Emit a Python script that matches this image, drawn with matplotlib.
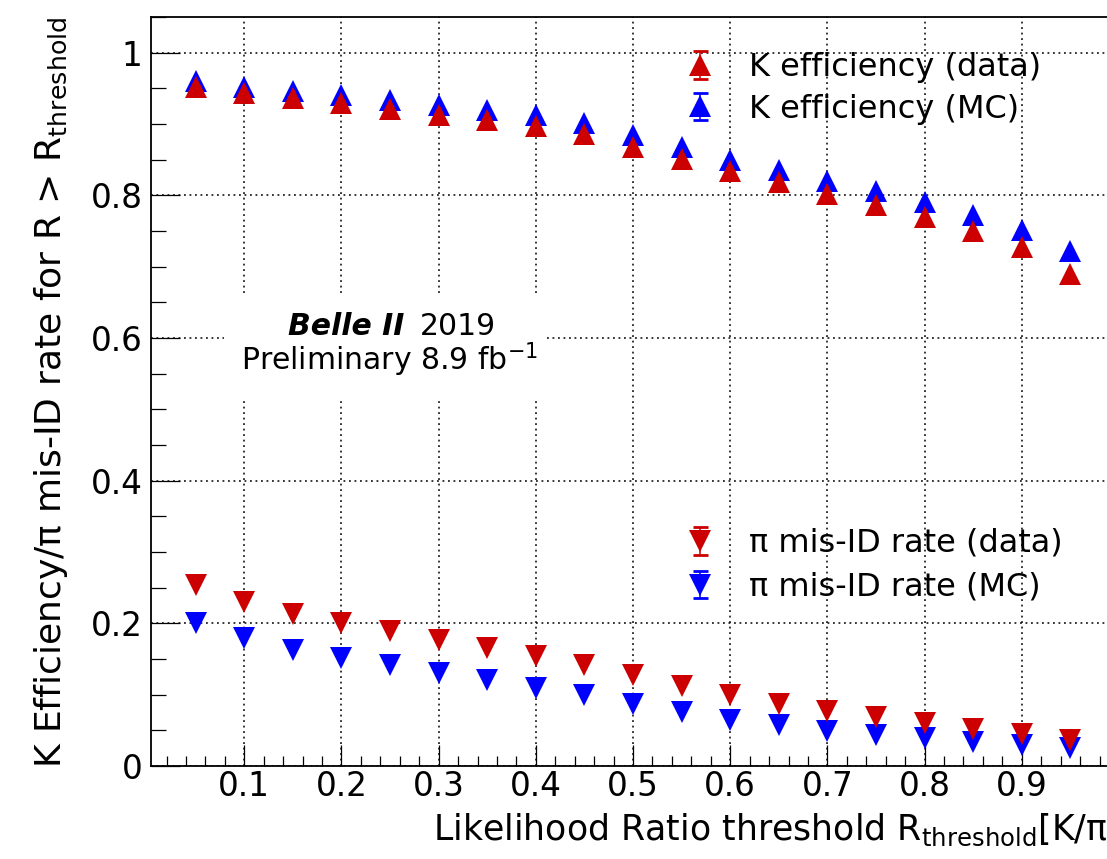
import numpy as np
import matplotlib
matplotlib.use("Agg")
import matplotlib.pyplot as plt
from matplotlib.patches import Rectangle
from matplotlib.ticker import MultipleLocator, FixedLocator, FuncFormatter
from matplotlib.lines import Line2D
from matplotlib.collections import LineCollection
from matplotlib.container import ErrorbarContainer
from matplotlib.legend_handler import HandlerErrorbar

plt.rcParams['font.family'] = ['DejaVu Sans']
plt.rcParams['mathtext.fontset'] = 'dejavusans'

# ---------------- data ----------------
thresholds = [0.05, 0.10, 0.15, 0.20, 0.25, 0.30, 0.35, 0.40, 0.45, 0.50,
              0.55, 0.60, 0.65, 0.70, 0.75, 0.80, 0.85, 0.90, 0.95]
k_eff_data = [0.952, 0.943, 0.936, 0.929, 0.921, 0.913, 0.905, 0.897, 0.886, 0.868,
              0.851, 0.834, 0.819, 0.802, 0.787, 0.770, 0.750, 0.727, 0.690]
k_eff_mc = [0.960, 0.952, 0.946, 0.940, 0.934, 0.927, 0.919, 0.912, 0.902, 0.885,
            0.868, 0.849, 0.835, 0.820, 0.806, 0.790, 0.772, 0.751, 0.722]
pi_misid_data = [0.254, 0.230, 0.213, 0.201, 0.189, 0.177, 0.166, 0.154, 0.142, 0.127,
                 0.112, 0.099, 0.087, 0.077, 0.069, 0.060, 0.052, 0.045, 0.037]
pi_misid_mc = [0.200, 0.179, 0.163, 0.152, 0.141, 0.130, 0.120, 0.110, 0.100, 0.087,
               0.076, 0.065, 0.057, 0.049, 0.044, 0.039, 0.034, 0.030, 0.025]
x_tick_values = [0.1, 0.2, 0.3, 0.4, 0.5, 0.6, 0.7, 0.8, 0.9]
labels_k = ["K efficiency (data)", "K efficiency (MC)"]
labels_pi = ["π mis-ID rate (data)", "π mis-ID rate (MC)"]

# ---------------- layout ----------------
W, H = 1107, 859
fig = plt.figure(figsize=(W / 100, H / 100), dpi=100)
L, R, B, T = 151, 1119, 766, 17
ax = fig.add_axes([L / W, 1 - B / H, (R - L) / W, (B - T) / H])
ax.set_xlim(0.004, 1.0)
ax.set_ylim(0, 1.05)


def axpos(px, py):
    return ((px - L) / (R - L), (B - py) / (B - T))


RED = '#cc0000'
BLUE = '#0000ff'
MS = 16.5

ax.plot(thresholds, k_eff_mc, ls='none', marker='^', ms=MS, mfc=BLUE, mec=BLUE, mew=0, zorder=3)
ax.plot(thresholds, k_eff_data, ls='none', marker='^', ms=MS, mfc=RED, mec=RED, mew=0, zorder=3.1)
ax.plot(thresholds, pi_misid_mc, ls='none', marker='v', ms=MS, mfc=BLUE, mec=BLUE, mew=0, zorder=3)
ax.plot(thresholds, pi_misid_data, ls='none', marker='v', ms=MS, mfc=RED, mec=RED, mew=0, zorder=3.1)

# axes styling
for s in ax.spines.values():
    s.set_linewidth(1.3)
ax.xaxis.set_major_locator(FixedLocator(x_tick_values))
ax.xaxis.set_minor_locator(MultipleLocator(0.02))
ax.yaxis.set_major_locator(MultipleLocator(0.2))
ax.yaxis.set_minor_locator(MultipleLocator(0.05))
fmt = FuncFormatter(lambda v, p: f"{v:g}")
ax.xaxis.set_major_formatter(fmt)
ax.yaxis.set_major_formatter(fmt)
ax.tick_params(axis='both', which='both', direction='in', top=False, right=False, width=0.9)
ax.tick_params(axis='x', which='major', length=15, labelsize=23.5, pad=3)
ax.tick_params(axis='x', which='minor', length=7.2)
ax.tick_params(axis='y', which='major', length=21, labelsize=23.5, pad=6)
ax.tick_params(axis='y', which='minor', length=10.8)
ax.grid(True, which='major', color='black', ls=(0, (1.2, 2.4)), lw=1.1)

ax.set_xlabel(r"Likelihood Ratio threshold R$_{\rm threshold}$[K/π]", fontsize=25, loc='right', va='top')
ax.xaxis.set_label_coords(1.0, axpos(0, 812)[1])
ax.set_ylabel(r"K Efficiency/π mis-ID rate for R > R$_{\rm threshold}$", fontsize=26, loc='top')
ax.yaxis.set_label_coords(axpos(70, 0)[0], 1.0)

# Belle II label with white box
x0, y0 = axpos(224, 398)
x1, y1 = axpos(545, 293)
ax.add_patch(Rectangle((x0, y0), x1 - x0, y1 - y0, transform=ax.transAxes,
                       facecolor='white', edgecolor='none', zorder=1.6))
ax.text(*axpos(404, 335), "Belle II", fontsize=21.5, fontweight='bold', style='italic',
        ha='right', va='baseline', transform=ax.transAxes, zorder=4)
ax.text(*axpos(420, 335), "2019", fontsize=21.5, ha='left', va='baseline',
        transform=ax.transAxes, zorder=4)
ax.text(*axpos(390, 370), r"Preliminary 8.9 fb$^{-1}$", fontsize=21.5, ha='center', va='baseline',
        transform=ax.transAxes, zorder=4)


# legend proxies (marker with error bar, ROOT style)
def proxy(color, marker):
    data_line = Line2D([], [], ls='none', marker=marker, ms=MS, mfc=color, mec=color, mew=0)
    cap = Line2D([], [], ls='none', marker='_', ms=10.8, mec=color, mew=2.0)
    bar = LineCollection([], colors=color, linewidths=1.1)
    return ErrorbarContainer((data_line, (cap, cap), (bar,)), has_xerr=False, has_yerr=True)


hmap = {ErrorbarContainer: HandlerErrorbar(yerr_size=0.43)}
leg1 = ax.legend([proxy(RED, '^'), proxy(BLUE, '^')], labels_k, loc='upper left',
                 bbox_to_anchor=(674 / W, 1 - 52 / H), bbox_transform=fig.transFigure,
                 frameon=False, fontsize=23, handlelength=1.6, handletextpad=0.75,
                 borderpad=0, borderaxespad=0, labelspacing=0.33, handler_map=hmap)
ax.add_artist(leg1)
leg2 = ax.legend([proxy(RED, 'v'), proxy(BLUE, 'v')], labels_pi, loc='upper left',
                 bbox_to_anchor=(674 / W, 1 - 528 / H), bbox_transform=fig.transFigure,
                 frameon=False, fontsize=23, handlelength=1.6, handletextpad=0.75,
                 borderpad=0, borderaxespad=0, labelspacing=0.4, handler_map=hmap)

fig.savefig("out.png", dpi=100)
